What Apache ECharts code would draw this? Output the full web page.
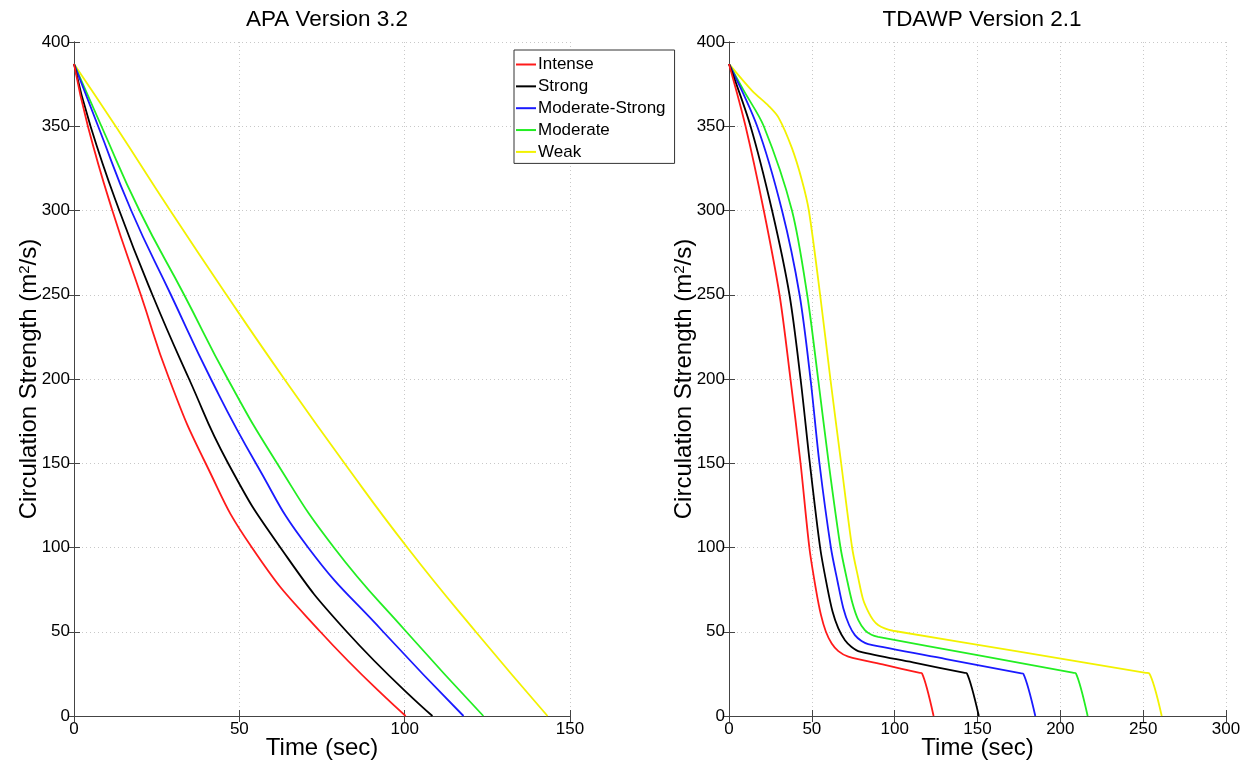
<!DOCTYPE html>
<html>
<head>
<meta charset="utf-8">
<script src="https://cdn.jsdelivr.net/npm/echarts@6/dist/echarts.min.js"></script>
<style>html,body{margin:0;padding:0;background:#fff;}#c{width:1250px;height:761px;}</style>
</head>
<body>
<div id="c"></div>
<script>
// ---- data ----
const seriesNames = ['Intense', 'Strong', 'Moderate-Strong', 'Moderate', 'Weak'];
const seriesColors = ['#ff1a1a', '#000000', '#1a1aff', '#22ee22', '#f2f200'];

// APA Version 3.2  [time (sec), circulation (m^2/s)]
const apaIntense = [[0,387],[4.2,350],[11.6,300],[20.2,250],[28.8,200],[39.8,150],[53.8,100],[74.5,50],[100.3,0]];
const apaStrong = [[0,387],[5,350],[13.7,300],[23.7,250],[34.8,200],[46.6,150],[62.4,100],[82.5,50],[108.4,0]];
const apaModStrong = [[0,387],[7.3,350],[17.3,300],[29.3,250],[41.4,200],[55,150],[70.8,100],[93.5,50],[117.8,0]];
const apaModerate = [[0,387],[8.3,350],[19.8,300],[33.3,250],[46.5,200],[61.4,150],[78.6,100],[100.5,50],[123.8,0]];
const apaWeak = [[0,387],[12.6,350],[29.1,300],[46.1,250],[63.6,200],[81.8,150],[100.8,100],[121.5,50],[143.2,0]];

// TDAWP Version 2.1
const tdIntense = [[0,387],[10,350],[21,300],[30.5,250],[37.1,200],[43.2,150],[48.5,100],[52.5,75],[55.5,60],[58.5,50],[62,43],[66,38.5],[72,35.2],[94,30.3],[114.5,25.7],[116.5,25.3],[123.5,0]];
const tdStrong = [[0,387],[13,350],[26,300],[36.5,250],[43.2,200],[48.8,150],[55,100],[59,78],[62.5,62],[66,52],[70,45],[74,41],[79,38.2],[111,31.8],[141.6,25.7],[143.6,25.3],[150.8,0]];
const tdModStrong = [[0,387],[17,350],[32,300],[42.6,250],[49.2,200],[54.6,150],[61.5,100],[65.5,80],[69,64],[72.5,54],[76,48],[80,44.5],[84,42.7],[131,33.8],[175.7,25.4],[177.7,25],[184.9,0]];
const tdModerate = [[0,387],[9,371],[21,350],[38,300],[47.2,250],[53.8,200],[60.2,150],[67.3,100],[71,82],[74.5,67],[78,57],[82,51],[86,48.2],[90,47],[150,36.1],[207.4,25.7],[209.4,25.3],[216.5,0]];
const tdWeak = [[0,387],[14,371],[24,362],[30,355],[38,337],[44,318],[48.2,300],[55,250],[61.2,200],[67.7,150],[74.3,100],[78,82],[81,69],[84.5,61],[87,57],[90,54],[94,52],[99,50.6],[176,38],[251.6,25.6],[253.6,25.3],[261.2,0]];

const apaX = {min: 0, max: 150, interval: 50};
const tdX = {min: 0, max: 300, interval: 50};
const yRange = {min: 0, max: 400, interval: 50};
const titles = ['APA Version 3.2', 'TDAWP Version 2.1'];
const xName = 'Time (sec)';
const yName = 'Circulation Strength (m{sup|2}/s)';

const apaData = [apaIntense, apaStrong, apaModStrong, apaModerate, apaWeak];
const tdData = [tdIntense, tdStrong, tdModStrong, tdModerate, tdWeak];

// ---- chart ----
const FONT = 'Liberation Sans, Arial, Helvetica, sans-serif';
const chart = echarts.init(document.getElementById('c'), null, {renderer: 'canvas'});

function mainX(gi, r) {
  return {
    type: 'value', gridIndex: gi, min: r.min, max: r.max, interval: r.interval,
    name: xName, nameLocation: 'middle', nameGap: 20, nameMoveOverlap: false,
    nameTextStyle: {fontSize: 24, color: '#000', fontFamily: FONT},
    axisLine: {show: true, lineStyle: {color: '#444', width: 1}},
    axisTick: {show: true, inside: true, length: 6, lineStyle: {color: '#444'}},
    axisLabel: {fontSize: 17, color: '#000', fontFamily: FONT, margin: 5},
    splitLine: {show: true, lineStyle: {color: '#c8c8c8', type: [1, 3], width: 1}}
  };
}
function topX(gi, r) {
  return {
    type: 'value', gridIndex: gi, min: r.min, max: r.max, interval: r.interval, position: 'top',
    axisLine: {show: true, lineStyle: {color: '#444', width: 1}},
    axisTick: {show: true, inside: true, length: 6, lineStyle: {color: '#444'}},
    axisLabel: {show: false}, splitLine: {show: false}
  };
}
function mainY(gi) {
  return {
    type: 'value', gridIndex: gi, min: yRange.min, max: yRange.max, interval: yRange.interval,
    name: yName, nameLocation: 'middle', nameGap: 32, nameRotate: 90, nameMoveOverlap: false,
    nameTextStyle: {fontSize: 24, color: '#000', fontFamily: FONT,
      rich: {sup: {fontSize: 15, color: '#000', fontFamily: FONT, verticalAlign: 'top', padding: [0, 0, 10, 0]}}},
    axisLine: {show: true, lineStyle: {color: '#444', width: 1}},
    axisTick: {show: true, inside: true, length: 6, lineStyle: {color: '#444'}},
    axisLabel: {fontSize: 17, color: '#000', fontFamily: FONT, margin: 4},
    splitLine: {show: true, lineStyle: {color: '#c8c8c8', type: [1, 3], width: 1}}
  };
}
function rightY(gi) {
  return {
    type: 'value', gridIndex: gi, min: yRange.min, max: yRange.max, interval: yRange.interval, position: 'right',
    axisLine: {show: true, lineStyle: {color: '#444', width: 1}},
    axisTick: {show: true, inside: true, length: 6, lineStyle: {color: '#444'}},
    axisLabel: {show: false}, splitLine: {show: false}
  };
}

const series = [];
[apaData, tdData].forEach((set, gi) => {
  set.forEach((d, i) => {
    series.push({
      type: 'line', name: seriesNames[i], data: d,
      xAxisIndex: gi * 2, yAxisIndex: gi * 2,
      showSymbol: false, symbol: 'none', smooth: gi === 0 ? 0.5 : 0.3,
      lineStyle: {color: seriesColors[i], width: 1.8},
      itemStyle: {color: seriesColors[i]},
      emphasis: {disabled: true}, z: 3 + (4 - i)
    });
  });
});

chart.setOption({
  animation: false,
  backgroundColor: '#fff',
  title: [
    {text: titles[0], left: 322, top: 3, textAlign: 'center', textStyle: {fontSize: 22.5, fontWeight: 'normal', color: '#000', fontFamily: FONT}},
    {text: titles[1], left: 977, top: 3, textAlign: 'center', textStyle: {fontSize: 22.5, fontWeight: 'normal', color: '#000', fontFamily: FONT}}
  ],
  legend: {
    data: seriesNames, orient: 'vertical', left: 514, top: 50,
    icon: 'rect', itemWidth: 20, itemHeight: 2, itemGap: 4.85,
    padding: [6, 9, 3, 2],
    backgroundColor: '#fff', borderColor: '#333', borderWidth: 1, borderRadius: 0,
    textStyle: {fontSize: 17, color: '#000', fontFamily: FONT, padding: [0, 0, 0, -3]},
    z: 10
  },
  grid: [
    {left: 74, top: 42, width: 496, height: 674, containLabel: false, outerBoundsMode: 'none'},
    {left: 729, top: 42, width: 497, height: 674, containLabel: false, outerBoundsMode: 'none'}
  ],
  xAxis: [mainX(0, apaX), topX(0, apaX), mainX(1, tdX), topX(1, tdX)],
  yAxis: [mainY(0), rightY(0), mainY(1), rightY(1)],
  series: series
});
</script>
</body>
</html>
